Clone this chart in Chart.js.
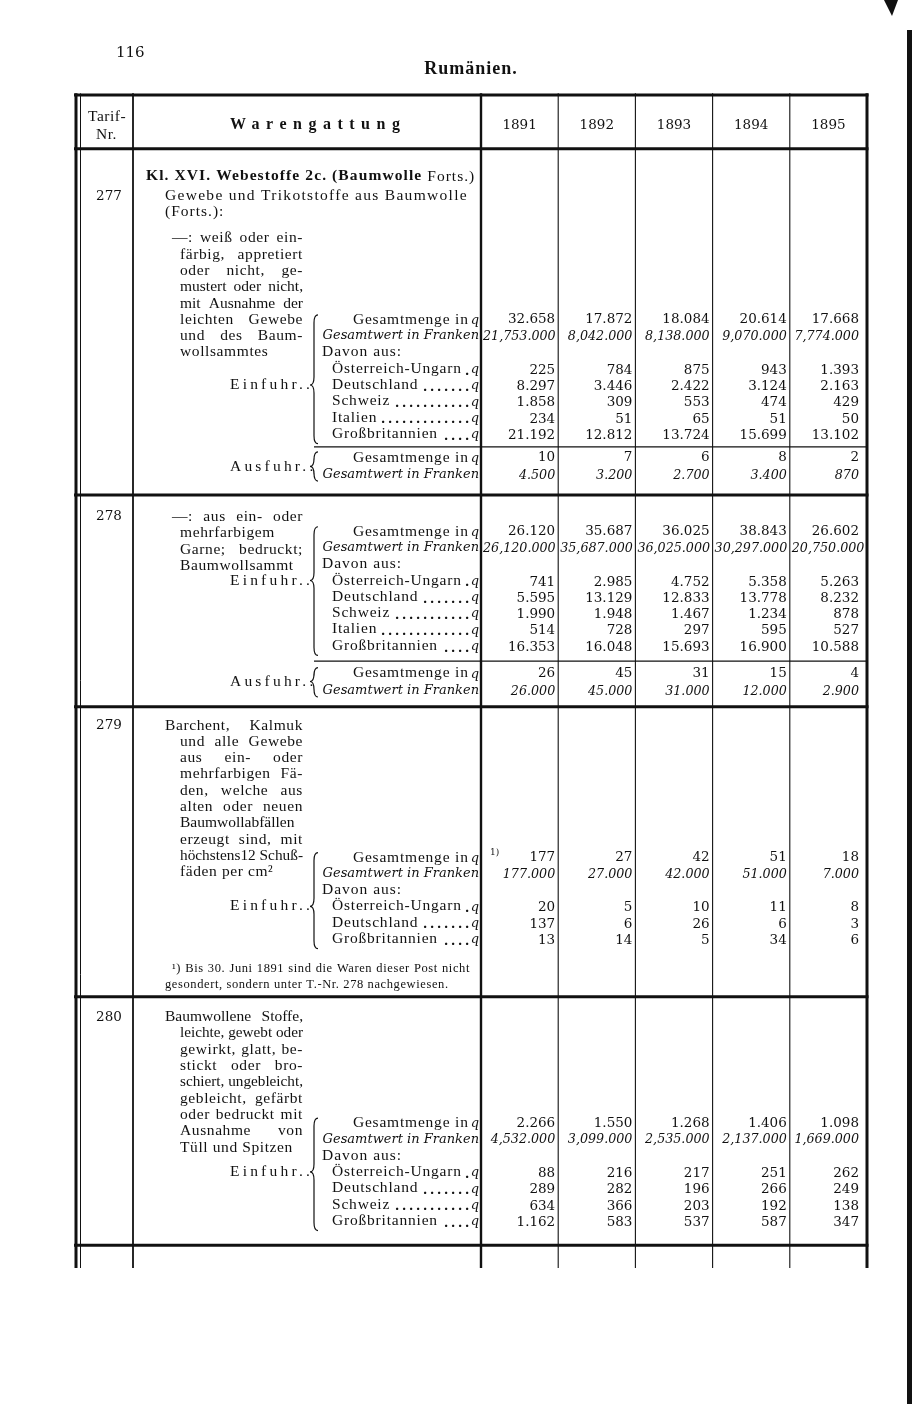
<!DOCTYPE html>
<html lang="de">
<head>
<meta charset="utf-8">
<title>Rumänien – Tarif-Nr. 277–280</title>
<script src="https://cdn.jsdelivr.net/npm/chart.js@4.4.1/dist/chart.umd.min.js"></script>
<style>
  html, body { margin: 0; padding: 0; background: #fff; }
  #tabelle { display: block; }
</style>
</head>
<body>
<canvas id="tabelle" width="912" height="1404"></canvas>
<script>
// Spalten
var jahre = ['1891', '1892', '1893', '1894', '1895'];

// Nr. 277
var text277 = ['—: weiß oder ein-', 'färbig, appretiert', 'oder nicht, ge-', 'mustert oder nicht,',
  'mit Ausnahme der', 'leichten Gewebe', 'und des Baum-', 'wollsammtes'];
var laender277 = ['Österreich-Ungarn', 'Deutschland', 'Schweiz', 'Italien', 'Großbritannien'];
var menge277 = [32658, 17872, 18084, 20614, 17668];
var wert277 = [21753000, 8042000, 8138000, 9070000, 7774000];
var herkunft277 = [
  [225, 784, 875, 943, 1393],
  [8297, 3446, 2422, 3124, 2163],
  [1858, 309, 553, 474, 429],
  [234, 51, 65, 51, 50],
  [21192, 12812, 13724, 15699, 13102]
];
var ausfuhrMenge277 = [10, 7, 6, 8, 2];
var ausfuhrWert277 = [4500, 3200, 2700, 3400, 870];

// Nr. 278
var text278 = ['—: aus ein- oder', 'mehrfarbigem', 'Garne; bedruckt;', 'Baumwollsammt'];
var laender278 = ['Österreich-Ungarn', 'Deutschland', 'Schweiz', 'Italien', 'Großbritannien'];
var menge278 = [26120, 35687, 36025, 38843, 26602];
var wert278 = [26120000, 35687000, 36025000, 30297000, 20750000];
var herkunft278 = [
  [741, 2985, 4752, 5358, 5263],
  [5595, 13129, 12833, 13778, 8232],
  [1990, 1948, 1467, 1234, 878],
  [514, 728, 297, 595, 527],
  [16353, 16048, 15693, 16900, 10588]
];
var ausfuhrMenge278 = [26, 45, 31, 15, 4];
var ausfuhrWert278 = [26000, 45000, 31000, 12000, 2900];

// Nr. 279
var text279 = ['Barchent, Kalmuk', 'und alle Gewebe', 'aus ein- oder', 'mehrfarbigen Fä-',
  'den, welche aus', 'alten oder neuen', 'Baumwollabfällen', 'erzeugt sind, mit',
  'höchstens12 Schuß-', 'fäden per cm²'];
var laender279 = ['Österreich-Ungarn', 'Deutschland', 'Großbritannien'];
var menge279 = [177, 27, 42, 51, 18];
var wert279 = [177000, 27000, 42000, 51000, 7000];
var herkunft279 = [
  [20, 5, 10, 11, 8],
  [137, 6, 26, 6, 3],
  [13, 14, 5, 34, 6]
];
var fussnote279 = ['¹) Bis 30. Juni 1891 sind die Waren dieser Post nicht',
  'gesondert, sondern unter T.-Nr. 278 nachgewiesen.'];

// Nr. 280
var text280 = ['Baumwollene Stoffe,', 'leichte, gewebt oder', 'gewirkt, glatt, be-', 'stickt oder bro-',
  'schiert, ungebleicht,', 'gebleicht, gefärbt', 'oder bedruckt mit', 'Ausnahme von', 'Tüll und Spitzen'];
var laender280 = ['Österreich-Ungarn', 'Deutschland', 'Schweiz', 'Großbritannien'];
var menge280 = [2266, 1550, 1268, 1406, 1098];
var wert280 = [4532000, 3099000, 2535000, 2137000, 1669000];
var herkunft280 = [
  [88, 216, 217, 251, 262],
  [289, 282, 196, 266, 249],
  [634, 366, 203, 192, 138],
  [1162, 583, 537, 587, 347]
];

// Zeilenlage (in Zeilen der y-Achse) und Einrückungen
var abschnitte = [
  { nr: '277', text: text277, laender: laender277, menge: menge277, wert: wert277, herkunft: herkunft277,
    ausfuhrMenge: ausfuhrMenge277, ausfuhrWert: ausfuhrWert277,
    zNr: 6.2, zText: 8.8, textX: 172, zEin: 13.8, zEinLabel: 17.8, zTrenn: 21.6, zAus: 22.25, zAusLabel: 22.8, zEnde: 24.55 },
  { nr: '278', text: text278, laender: laender278, menge: menge278, wert: wert278, herkunft: herkunft278,
    ausfuhrMenge: ausfuhrMenge278, ausfuhrWert: ausfuhrWert278,
    zNr: 25.9, zText: 25.9, textX: 172, zEin: 26.8, zEinLabel: 29.8, zTrenn: 34.75, zAus: 35.5, zAusLabel: 36.0, zEnde: 37.55 },
  { nr: '279', text: text279, laender: laender279, menge: menge279, wert: wert279, herkunft: herkunft279,
    zNr: 38.7, zText: 38.7, textX: 165, zEin: 46.8, zEinLabel: 49.8, zEnde: 55.35 },
  { nr: '280', text: text280, laender: laender280, menge: menge280, wert: wert280, herkunft: herkunft280,
    zNr: 56.6, zText: 56.6, textX: 165, zEin: 63.1, zEinLabel: 66.1, zEnde: 70.6 }
];

var tinte = '#111';
var fraktur = '15.5px "Liberation Serif"';
var frakturFett = 'bold 15.5px "Liberation Serif"';
var antiqua = '13.5px "DejaVu Serif"';
var antiquaKursiv = 'italic 12.7px "DejaVu Serif"';
var wertPolster = [3, 3, 3, 3, 8];

// 21753000 -> "21,753.000", 4500 -> "4.500" (wie im Druck)
function zahl(n) {
  var s = String(n), g = [];
  while (s.length > 3) { g.unshift(s.slice(-3)); s = s.slice(0, -3); }
  g.unshift(s);
  if (g.length === 3) return g[0] + ',' + g[1] + '.' + g[2];
  return g.join('.');
}

// Punkte je Jahr: Position über die Skalen, Text als Beschriftung
var punkte = jahre.map(function () { return []; });
abschnitte.forEach(function (a) {
  jahre.forEach(function (j, i) {
    punkte[i].push({ x: j, y: a.zEin, text: zahl(a.menge[i]) });
    punkte[i].push({ x: j, y: a.zEin + 1.05, text: zahl(a.wert[i]), kursiv: true });
    a.herkunft.forEach(function (reihe, k) {
      punkte[i].push({ x: j, y: a.zEin + 3.1 + k, text: zahl(reihe[i]) });
    });
    if (a.ausfuhrMenge) {
      punkte[i].push({ x: j, y: a.zAus, text: zahl(a.ausfuhrMenge[i]) });
      punkte[i].push({ x: j, y: a.zAus + 1.1, text: zahl(a.ausfuhrWert[i]), kursiv: true });
    }
  });
});

function schreib(ctx, text, x, y, font, align, abstand) {
  ctx.font = font;
  ctx.letterSpacing = (abstand || 0) + 'px';
  ctx.textAlign = align || 'left';
  ctx.fillText(text, x, y);
  ctx.letterSpacing = '0px';
}

// Blocksatz: erst mit Sperrung, bei Platzmangel ohne, zuletzt gestaucht
function blocksatz(ctx, text, x0, x1, y, font, ausgleich) {
  ctx.font = font;
  ctx.textAlign = 'left';
  var breite = x1 - x0;
  ctx.letterSpacing = '0.6px';
  var w = ctx.measureText(text).width;
  if (w > breite) {
    ctx.letterSpacing = '0px';
    w = ctx.measureText(text).width;
  }
  var woerter = text.split(' ');
  if (!ausgleich || w >= breite || woerter.length < 2) {
    ctx.fillText(text, x0, y, breite);
  } else {
    var ws = woerter.map(function (t) { return ctx.measureText(t).width; });
    var summe = ws.reduce(function (s, v) { return s + v; }, 0);
    var luecke = (breite - summe) / (woerter.length - 1);
    var x = x0;
    woerter.forEach(function (t, i) { ctx.fillText(t, x, y); x += ws[i] + luecke; });
  }
  ctx.letterSpacing = '0px';
}

function klammer(ctx, x, oben, mitte, unten) {
  var d = 4;
  ctx.beginPath();
  ctx.moveTo(x + d, oben);
  ctx.quadraticCurveTo(x, oben, x, oben + 2 * d);
  ctx.lineTo(x, mitte - 2 * d);
  ctx.quadraticCurveTo(x, mitte, x - d, mitte);
  ctx.quadraticCurveTo(x, mitte, x, mitte + 2 * d);
  ctx.lineTo(x, unten - 2 * d);
  ctx.quadraticCurveTo(x, unten, x + d, unten);
  ctx.lineWidth = 1.2;
  ctx.stroke();
}

var tabellendruck = {
  id: 'tabellendruck',
  afterDatasetsDraw: function (chart) {
    var ctx = chart.ctx, xs = chart.scales.x, ys = chart.scales.y;
    var spalte = (xs.right - xs.left) / jahre.length;
    var rechts = 479;
    function py(r) { return ys.getPixelForValue(r); }
    function hLinie(x0, x1, r, lw) {
      ctx.lineWidth = lw; ctx.beginPath(); ctx.moveTo(x0, py(r)); ctx.lineTo(x1, py(r)); ctx.stroke();
    }
    function vLinie(x, r0, r1, lw) {
      ctx.lineWidth = lw; ctx.beginPath(); ctx.moveTo(x, py(r0)); ctx.lineTo(x, py(r1)); ctx.stroke();
    }
    function mitQ(text, r) {
      ctx.font = 'italic 13px "DejaVu Serif"';
      ctx.textAlign = 'right';
      ctx.fillText('q', rechts, py(r) + 1);
      var qb = ctx.measureText('q').width;
      schreib(ctx, text, rechts - qb - 2, py(r), fraktur, 'right', 0.8);
    }

    ctx.save();
    ctx.fillStyle = tinte;
    ctx.strokeStyle = tinte;
    ctx.textBaseline = 'middle';

    // Seitenkopf
    schreib(ctx, '116', 116, py(-2.6), '15px "DejaVu Serif"', 'left');
    schreib(ctx, 'Rumänien.', 471, py(-1.6), 'bold 18px "Liberation Serif"', 'center', 1);

    // Tabellenkopf
    schreib(ctx, 'Tarif-', 88, py(1.35), fraktur, 'left', 0.5);
    schreib(ctx, 'Nr.', 96, py(2.45), fraktur, 'left', 0.5);
    schreib(ctx, 'Warengattung', 230, py(1.85), 'bold 16px "Liberation Serif"', 'left', 6.5);
    jahre.forEach(function (j, i) {
      schreib(ctx, j, xs.getPixelForValue(i), py(1.85), antiqua, 'center');
    });

    // Rahmen und Linien
    vLinie(76, -0.1, 72, 3);
    vLinie(80.5, -0.1, 72, 1);
    vLinie(133, -0.1, 72, 1.8);
    vLinie(xs.left, -0.1, 72, 2.4);
    for (var g = 1; g < jahre.length; g++) vLinie(xs.left + g * spalte, -0.1, 72, 1.1);
    vLinie(xs.right, -0.1, 72, 3);
    hLinie(74, xs.right + 1.5, 0, 3);
    hLinie(74, xs.right + 1.5, 3.3, 3);

    // Vorspann zu Nr. 277
    ctx.font = frakturFett; ctx.letterSpacing = '1.1px'; ctx.textAlign = 'left';
    var fett = 'Kl. XVI. Webestoffe 2c. (Baumwolle';
    ctx.fillText(fett, 146, py(5.0));
    var fb = ctx.measureText(fett + ' ').width;
    schreib(ctx, 'Forts.)', 146 + fb, py(5.0), fraktur, 'left', 1);
    schreib(ctx, 'Gewebe und Trikotstoffe aus Baumwolle', 165, py(6.2), fraktur, 'left', 1.3);
    schreib(ctx, '(Forts.):', 165, py(7.2), fraktur, 'left', 1);

    abschnitte.forEach(function (a) {
      schreib(ctx, a.nr, 109, py(a.zNr), antiqua, 'center');
      a.text.forEach(function (t, k) {
        var x0 = k === 0 ? a.textX : 180;
        blocksatz(ctx, t, x0, 303, py(a.zText + k), fraktur, k < a.text.length - 1);
      });

      // Einfuhr
      var letzte = a.zEin + 2 + a.laender.length;
      klammer(ctx, 314, py(a.zEin - 0.3), py(a.zEinLabel), py(letzte + 0.6));
      schreib(ctx, 'Einfuhr..', 230, py(a.zEinLabel), fraktur, 'left', 3.2);
      mitQ('Gesamtmenge in', a.zEin);
      schreib(ctx, 'Gesamtwert in Franken', rechts, py(a.zEin + 1), 'italic 13px "DejaVu Serif"', 'right');
      schreib(ctx, 'Davon aus:', 322, py(a.zEin + 2), fraktur, 'left', 1);
      a.laender.forEach(function (l, k) {
        var r = a.zEin + 3 + k;
        schreib(ctx, l, 332, py(r), fraktur, 'left', 0.8);
        ctx.font = fraktur; ctx.letterSpacing = '0.8px';
        var ende = 332 + ctx.measureText(l).width + 3;
        ctx.letterSpacing = '0px';
        ctx.font = 'italic 13px "DejaVu Serif"'; ctx.textAlign = 'right';
        ctx.fillText('q', rechts, py(r) + 1);
        ctx.textAlign = 'center'; ctx.font = 'bold 15px "Liberation Serif"';
        for (var p = rechts - 12; p > ende; p -= 7) ctx.fillText('.', p, py(r) + 2);
      });

      // Ausfuhr
      if (a.ausfuhrMenge) {
        hLinie(314, xs.right, a.zTrenn, 1.3);
        klammer(ctx, 314, py(a.zAus - 0.35), py(a.zAusLabel), py(a.zAus + 1.45));
        schreib(ctx, 'Ausfuhr..', 230, py(a.zAusLabel), fraktur, 'left', 3.2);
        mitQ('Gesamtmenge in', a.zAus);
        schreib(ctx, 'Gesamtwert in Franken', rechts, py(a.zAus + 1.05), 'italic 13px "DejaVu Serif"', 'right');
      }
      hLinie(74, xs.right + 1.5, a.zEnde, 3);
    });

    // Fußnote zu Nr. 279
    blocksatz(ctx, fussnote279[0], 172, 470, py(53.65), '12.5px "Liberation Serif"', true);
    blocksatz(ctx, fussnote279[1], 165, 470, py(54.6), '12.5px "Liberation Serif"', false);
    schreib(ctx, '1)', 490, py(46.5), '9px "DejaVu Serif"', 'left');

    // Zahlen aus den Datenpunkten
    chart.data.datasets.forEach(function (ds, d) {
      var meta = chart.getDatasetMeta(d);
      meta.data.forEach(function (el, i) {
        var p = ds.data[i];
        var font = p.kursiv ? antiquaKursiv : antiqua;
        ctx.font = font;
        var w = ctx.measureText(p.text).width;
        var links = el.x - spalte / 2, re = el.x + spalte / 2;
        var x = Math.min(re - 1, Math.max(re - wertPolster[d], links + 2 + w));
        schreib(ctx, p.text, x, el.y, font, 'right');
      });
    });

    // Scanrand
    ctx.fillRect(907, 30, 5, 1374);
    ctx.beginPath();
    ctx.moveTo(884, 0); ctx.lineTo(898, 0); ctx.lineTo(892, 16); ctx.closePath();
    ctx.fill();
    ctx.restore();
  }
};

new Chart(document.getElementById('tabelle').getContext('2d'), {
  type: 'scatter',
  data: {
    datasets: jahre.map(function (j, i) {
      return { label: j, data: punkte[i], pointRadius: 0, pointHoverRadius: 0, showLine: false };
    })
  },
  options: {
    responsive: false,
    devicePixelRatio: 1,
    animation: false,
    events: [],
    layout: { padding: { left: 481, right: 45, top: 95, bottom: 136 } },
    scales: {
      x: { type: 'category', labels: jahre, offset: true, display: false },
      y: { type: 'linear', min: 0, max: 72, reverse: true, display: false }
    },
    plugins: { legend: { display: false }, tooltip: { enabled: false } }
  },
  plugins: [tabellendruck]
});
</script>
</body>
</html>
